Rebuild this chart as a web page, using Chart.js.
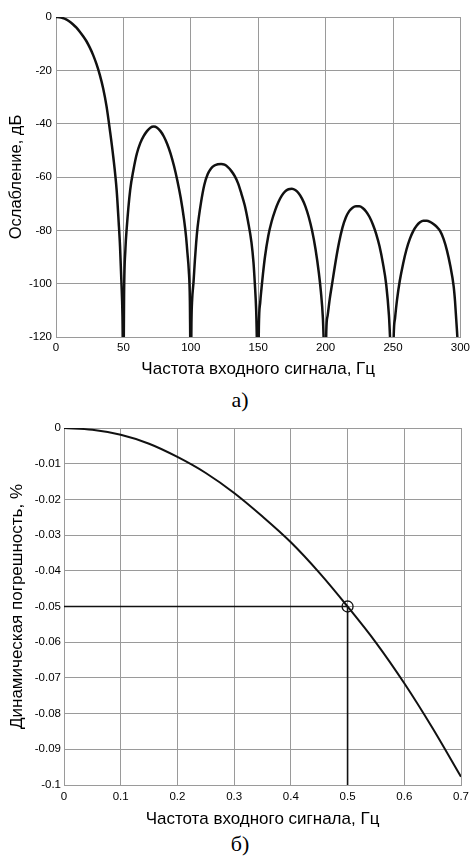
<!DOCTYPE html>
<html>
<head>
<meta charset="utf-8">
<script src="https://cdn.jsdelivr.net/npm/chart.js@4.4.1/dist/chart.umd.min.js"></script>
<style>
  html, body { margin: 0; padding: 0; background: #fff; }
  body { width: 474px; height: 856px; position: relative; overflow: hidden; }
  .wrap { position: absolute; left: 0; width: 474px; }
  .cap { position: absolute; left: 3px; width: 474px; text-align: center;
         font-family: "Liberation Serif", "DejaVu Serif", serif; font-size: 22px;
         line-height: 26px; color: #000; }
</style>
</head>
<body>
<div class="wrap" style="top:0;height:382px"><canvas id="c1" width="474" height="382"></canvas></div>
<div class="cap" style="top:387px">а)</div>
<div class="wrap" style="top:410px;height:421px"><canvas id="c2" width="474" height="421"></canvas></div>
<div class="cap" style="top:831px">б)</div>
<script>
// ---- Chart а): attenuation vs input frequency ----
const freqA = [
  0, 2.5, 5, 7.5, 10, 12.5, 15, 17.5, 20, 22.5, 25, 27.5, 30, 32.5, 35, 37.5, 40, 42.5, 45, 46.5, 47.5, 48.5, 49.3, 50,
  50.5, 51.5, 52.5, 55, 57.5, 60, 62.5, 65, 67.5, 70, 72.5, 75, 77.5, 80, 82.5, 85, 87.5, 90, 92.5, 95, 96.5, 97.5, 98.5, 99.3, 100,
  100.5, 101, 102, 103, 104, 105, 107.5, 110, 112.5, 115, 117.5, 120, 122.5, 125, 127.5, 130, 132.5, 135, 137.5, 140, 142.5, 145, 146.5, 147.5, 148.5, 150,
  150.5, 151.5, 152.5, 153.5, 155, 157.5, 160, 162.5, 165, 167.5, 170, 172.5, 175, 177.5, 180, 182.5, 185, 187.5, 190, 192.5, 195, 196.5, 198, 200,
  200.5, 201.5, 203, 205, 207.5, 210, 212.5, 215, 217.5, 220, 222.5, 225, 227.5, 230, 232.5, 235, 237.5, 240, 242.5, 245, 247, 250,
  250.5, 251.5, 253, 255, 257.5, 260, 262.5, 265, 267.5, 270, 272.5, 275, 277.5, 280, 282.5, 285, 287.5, 290, 292.5, 295, 296, 297.5, 300
];
const attenuationDb = [
  0, -0.1, -0.4, -0.9, -1.7, -2.7, -3.9, -5.4, -7.1, -9.0, -11.4, -14.2, -17.6, -21.7, -26.8, -33.5, -42.5, -52.5, -65, -77, -86, -99, -112, -140,
  -104, -87, -79, -65, -57.2, -51.2, -47.3, -44.7, -42.8, -41.5, -41.1, -41.5, -42.8, -44.8, -47.6, -51.2, -55.8, -61.3, -67.8, -76, -82.5, -88.5, -95, -106, -140,
  -114, -106, -99.5, -91.5, -84.5, -79, -69.8, -63, -59, -56.8, -55.7, -55.2, -55.1, -55.4, -56.3, -57.7, -59.6, -62.3, -66.2, -70.6, -76.8, -84.5, -92, -100, -110, -140,
  -116, -107, -101.5, -96.5, -90, -82, -76.6, -72.6, -69.4, -67, -65.4, -64.6, -64.4, -64.9, -66.1, -68.1, -71, -75, -80.2, -87, -96, -103, -113, -140,
  -118, -112, -106, -99.5, -91.5, -84.5, -79, -75.2, -72.8, -71.5, -71, -71, -71.6, -72.9, -74.9, -77.7, -81.3, -86, -92.3, -100.5, -112, -140,
  -120, -113, -106, -99, -92.5, -87.2, -83.2, -80.3, -78.3, -77, -76.4, -76.4, -76.8, -77.6, -78.7, -80.3, -83.2, -87.5, -93.3, -101, -106.5, -118, -140
];
const xTicksA = { min: 0, max: 300, step: 50 };
const yTicksA = { min: -120, max: 0, step: 20 };

// ---- Chart б): dynamic error vs input frequency ----
const freqB = [0, 0.05, 0.1, 0.15, 0.2, 0.25, 0.3, 0.35, 0.4, 0.45, 0.5, 0.55, 0.6, 0.65, 0.7];
const errorPct = [0, -0.0005, -0.0019, -0.0044, -0.0081, -0.0126, -0.0182, -0.0248, -0.032, -0.0405, -0.05, -0.0601, -0.0715, -0.0841, -0.0977];
const markerX = 0.5;
const markerY = -0.05;
const xTicksB = { min: 0, max: 0.7, step: 0.1 };
const yTicksB = { min: -0.1, max: 0, step: 0.01 };

const FONT = '"Liberation Sans", Arial, Helvetica, sans-serif';
const GRID = '#9a9a9a';
const INK = '#111';
const TICK_FONT = { family: FONT, size: 11.5 };

function fmt(v) { return String(Number(v.toFixed(2))); }

function axis(opts) {
  return Object.assign({
    type: 'linear',
    grid: { color: GRID, lineWidth: 1, drawTicks: false },
    border: { color: GRID, width: 1 },
  }, opts);
}

new Chart(document.getElementById('c1'), {
  type: 'line',
  data: {
    datasets: [{
      data: freqA.map((f, i) => ({ x: f, y: attenuationDb[i] })),
      borderColor: INK, borderWidth: 2.5, pointRadius: 0, fill: false,
      cubicInterpolationMode: 'monotone', clip: 0
    }]
  },
  options: {
    responsive: false, animation: false, devicePixelRatio: 1,
    layout: { padding: { top: 17, right: 13, bottom: 0, left: 0 } },
    plugins: { legend: { display: false }, tooltip: { enabled: false } },
    scales: {
      x: axis({
        min: xTicksA.min, max: xTicksA.max,
        ticks: { stepSize: xTicksA.step, color: '#000', font: TICK_FONT, padding: 4, maxRotation: 0, autoSkip: false },
        title: { display: true, text: 'Частота входного сигнала, Гц', color: '#000', font: { family: FONT, size: 17 }, padding: { top: 0, bottom: 2 } },
        afterFit(s) { s.height = 45; }
      }),
      y: axis({
        min: yTicksA.min, max: yTicksA.max,
        ticks: { stepSize: yTicksA.step, color: '#000', font: TICK_FONT, padding: 4, callback: v => fmt(v) },
        title: { display: true, text: 'Ослабление, дБ', color: '#000', font: { family: FONT, size: 16.5 }, padding: { top: 7, bottom: 0 } },
        afterFit(s) { s.width = 56; }
      })
    }
  }
});

new Chart(document.getElementById('c2'), {
  type: 'line',
  data: {
    datasets: [
      {
        data: freqB.map((f, i) => ({ x: f, y: errorPct[i] })),
        borderColor: INK, borderWidth: 2, pointRadius: 0, fill: false,
        cubicInterpolationMode: 'monotone', clip: 0
      },
      {
        data: [{ x: xTicksB.min, y: markerY }, { x: markerX, y: markerY }],
        borderColor: INK, borderWidth: 1.6, pointRadius: 0, fill: false, tension: 0
      },
      {
        data: [{ x: markerX, y: markerY }, { x: markerX, y: yTicksB.min }],
        borderColor: INK, borderWidth: 1.6, pointRadius: 0, fill: false, tension: 0
      },
      {
        data: [{ x: markerX, y: markerY }],
        showLine: false, pointStyle: 'circle', pointRadius: 5.5,
        pointBorderColor: INK, pointBackgroundColor: 'rgba(0,0,0,0)', pointBorderWidth: 1.3
      }
    ]
  },
  options: {
    responsive: false, animation: false, devicePixelRatio: 1,
    layout: { padding: { top: 18, right: 10, bottom: 0, left: 0 } },
    plugins: { legend: { display: false }, tooltip: { enabled: false } },
    scales: {
      x: axis({
        min: xTicksB.min, max: xTicksB.max,
        ticks: { stepSize: xTicksB.step, color: '#000', font: TICK_FONT, padding: 5, maxRotation: 0, autoSkip: false, callback: v => fmt(v) },
        title: { display: true, text: 'Частота входного сигнала, Гц', color: '#000', font: { family: FONT, size: 17 }, padding: { top: 0, bottom: 1 } },
        afterFit(s) { s.height = 46; }
      }),
      y: axis({
        min: yTicksB.min, max: yTicksB.max,
        ticks: { stepSize: yTicksB.step, color: '#000', font: TICK_FONT, padding: 3, autoSkip: false, callback: v => fmt(v) },
        title: { display: true, text: 'Динамическая погрешность, %', color: '#000', font: { family: FONT, size: 17 }, padding: { top: 7, bottom: 0 } },
        afterFit(s) { s.width = 64; }
      })
    }
  }
});
</script>
</body>
</html>
